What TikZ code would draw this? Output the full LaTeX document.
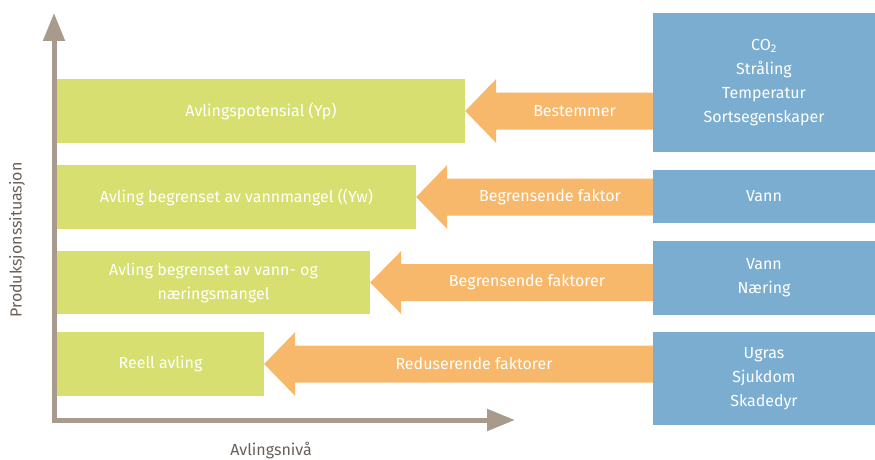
\documentclass[tikz,border=0pt]{standalone}
\usepackage{fontspec}
\setmainfont{Fira Sans}
\definecolor{yieldgreen}{RGB}{215,223,112}
\definecolor{factorblue}{RGB}{122,173,208}
\definecolor{arroworange}{RGB}{247,184,107}
\definecolor{axisgray}{RGB}{168,154,140}
\definecolor{labelgray}{RGB}{105,95,88}
\usetikzlibrary{arrows.meta,positioning,calc}

\tikzset{
  yieldbox/.style={fill=yieldgreen, inner sep=0pt, minimum height=64pt, text=white, align=center, font=\fontsize{16}{24}\selectfont},
  factorbox/.style={fill=factorblue, inner sep=0pt, minimum width=222pt, text=white, align=center, font=\fontsize{16}{24}\selectfont},
  arrowfill/.style={fill=arroworange},
  arrowtext/.style={text=white, inner sep=0pt, font=\fontsize{16}{24}\selectfont},
  axislabel/.style={text=labelgray, inner sep=0pt, font=\fontsize{16}{20}\selectfont},
  axisline/.style={draw=axisgray, line width=5pt, miter limit=10}
}

\begin{document}
\begin{tikzpicture}[x=1pt, y=1pt]
  \useasboundingbox (0,0) rectangle (875,459);

  % Axes
  \coordinate (ytip) at (54,446);
  \coordinate (origin) at (54,39);
  \coordinate (xtip) at (515,39);
  \draw[axisline, {Triangle[length=28pt,width=21pt]}-{Triangle[length=28pt,width=21pt]}] (ytip) -- (origin) -- (xtip);
  \node[axislabel, rotate=90] (ylabel) at (17,219) {Produksjonssituasjon};
  \node[axislabel, anchor=base] (xlabel) at (271,4) {Avlingsnivå};

  % Yield levels
  \node[yieldbox, minimum width=408pt] (pot) at (261,348) {Avlingspotensial (Yp)};
  \node[yieldbox, minimum width=359pt] (yw) at (236.5,262) {Avling begrenset av vannmangel ((Yw)};
  \node[yieldbox, minimum width=313pt, minimum height=63pt] (ywn) at (213.5,176.5) {Avling begrenset av vann- og\\næringsmangel};
  \node[yieldbox, minimum width=207pt] (reell) at (160.5,95) {Reell avling};

  % Factors
  \node[factorbox, minimum height=139pt] (klima) at (764,376.5) {CO\textsubscript{2}\\Stråling\\Temperatur\\Sortsegenskaper};
  \node[factorbox, minimum height=53pt] (vann) at (764,262.5) {Vann};
  \node[factorbox, minimum height=74pt] (vannnaer) at (764,181) {Vann\\Næring};
  \node[factorbox, minimum height=93pt] (skade) at (764,80.5) {Ugras\\Sjukdom\\Skadedyr};

  % Arrow klima -> pot
  \coordinate (e1) at (pot.east -| klima.west);
  \fill[arrowfill] (pot.east) -- ++(31,32) -- ++(0,-13.5) -- ([yshift=18.5pt]e1) -- ([yshift=-18.5pt]e1)
    -- ([shift={(31,-18.5)}]pot.east) -- ++(0,-13.5) -- cycle;
  \node[arrowtext] (t1) at ($([xshift=31pt]pot.east)!0.5!(e1)$) {Bestemmer};

  % Arrow vann -> yw
  \coordinate (e2) at (yw.east -| vann.west);
  \fill[arrowfill] (yw.east) -- ++(31,32) -- ++(0,-13.5) -- ([yshift=18.5pt]e2) -- ([yshift=-18.5pt]e2)
    -- ([shift={(31,-18.5)}]yw.east) -- ++(0,-13.5) -- cycle;
  \node[arrowtext] (t2) at ($([xshift=31pt]yw.east)!0.5!(e2)$) {Begrensende faktor};

  % Arrow vannnaer -> ywn
  \coordinate (e3) at (ywn.east -| vannnaer.west);
  \fill[arrowfill] (ywn.east) -- ++(31,31.5) -- ++(0,-13) -- ([yshift=18.5pt]e3) -- ([yshift=-18.5pt]e3)
    -- ([shift={(31,-18.5)}]ywn.east) -- ++(0,-13) -- cycle;
  \node[arrowtext] (t3) at ($([xshift=31pt]ywn.east)!0.5!(e3)$) {Begrensende faktorer};

  % Arrow skade -> reell
  \coordinate (e4) at (reell.east -| skade.west);
  \fill[arrowfill] (reell.east) -- ++(31,32) -- ++(0,-13.5) -- ([yshift=18.5pt]e4) -- ([yshift=-18.5pt]e4)
    -- ([shift={(31,-18.5)}]reell.east) -- ++(0,-13.5) -- cycle;
  \node[arrowtext] (t4) at ($([xshift=31pt]reell.east)!0.5!(e4)$) {Reduserende faktorer};
\end{tikzpicture}
\end{document}
